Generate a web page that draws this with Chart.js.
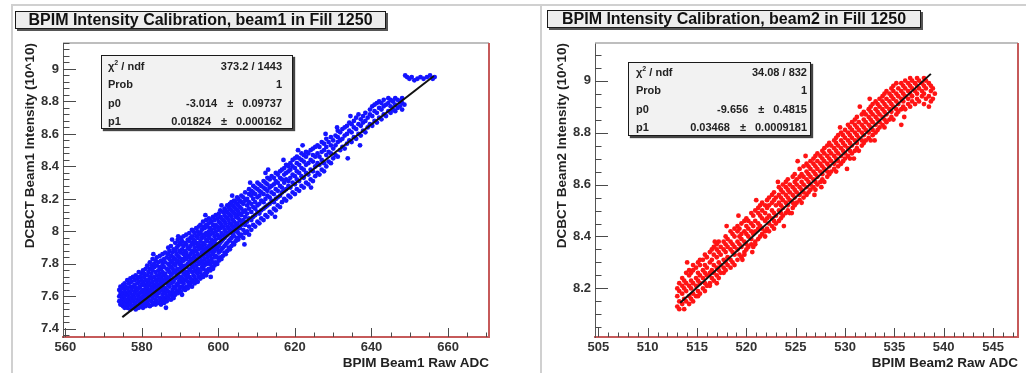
<!DOCTYPE html>
<html>
<head>
<meta charset="utf-8">
<title>BPIM Intensity Calibration, Fill 1250</title>
<script src="https://cdn.jsdelivr.net/npm/chart.js@4.4.0/dist/chart.umd.min.js"></script>
<style>
  html, body { margin: 0; padding: 0; background: #fff; }
  body { width: 1026px; height: 373px; position: relative; overflow: hidden;
         font-family: "Liberation Sans", Arial, Helvetica, sans-serif; }
  canvas { position: absolute; top: 0; }
  #beam1Canvas { left: 0; }
  #beam2Canvas { left: 513px; }
  .pad-line { position: absolute; background: #d0d0d0; }
  .title-box { position: absolute; height: 16px; border: 1px solid #1a1a1a; background: #ededed;
               box-shadow: 2px 2px 0 #555; font-weight: bold; font-size: 16px; line-height: 16px;
               text-align: center; color: #111; white-space: nowrap; }
  .stats-box { position: absolute; border: 1px solid #1a1a1a; background: #f2f2f2;
               box-shadow: 2px 2px 1px #444; font-weight: bold; font-size: 11px; color: #222;
               box-sizing: border-box; }
  .stats-row { display: flex; justify-content: space-between; align-items: center; white-space: nowrap; }
  .stats-row sup { font-size: 7px; line-height: 0; }
  .pm { margin: 0 9px 0 10px; }
</style>
</head>
<body>
  <div class="pad-line" style="left:11px;top:4px;width:1015px;height:2px;"></div>
  <div class="pad-line" style="left:11px;top:4px;width:2px;height:369px;"></div>
  <div class="pad-line" style="left:540px;top:4px;width:2px;height:369px;"></div>

  <canvas id="beam1Canvas" width="513" height="373"></canvas>
  <canvas id="beam2Canvas" width="513" height="373"></canvas>

  <div class="title-box" style="left:15px;top:11px;width:369px;">BPIM Intensity Calibration, beam1 in Fill 1250</div>
  <div class="title-box" style="left:547px;top:10px;width:372px;">BPIM Intensity Calibration, beam2 in Fill 1250</div>

  <div id="beam1Stats" class="stats-box" style="left:101px;top:55px;width:192px;height:74px;padding:1px 10px 0 6px;"></div>
  <div id="beam2Stats" class="stats-box" style="left:628px;top:62px;width:183px;height:74px;padding:0 3px 0 7px;"></div>

<script>
// Samples per ADC column: [BPIM raw ADC, DCBCT intensity (10^10) values ...]
const beam1Columns = [
  [574.1,7.57,7.60,7.64],[574.4,7.55,7.61,7.63,7.66],[574.8,7.58,7.62,7.56,7.65],[575.1,7.54,7.59,7.61,7.67],
  [575.5,7.56,7.60,7.64,7.68,7.53],[575.8,7.58,7.62,7.66,7.55],[576.2,7.53,7.57,7.61,7.65,7.70],[576.6,7.55,7.60,7.63,7.68,7.58],
  [577.0,7.52,7.56,7.62,7.66,7.71,7.59],[577.3,7.54,7.58,7.64,7.69],[577.7,7.53,7.57,7.61,7.66,7.72,7.60],[578.1,7.55,7.59,7.63,7.67,7.70],
  [578.4,7.52,7.56,7.62,7.65,7.73],[578.8,7.54,7.58,7.61,7.68,7.71,7.64],[579.2,7.53,7.57,7.60,7.65,7.69,7.75],[579.5,7.55,7.62,7.66,7.72,7.59],
  [579.9,7.54,7.58,7.63,7.67,7.70,7.74],[580.3,7.56,7.60,7.64,7.69,7.76,7.53],[580.6,7.55,7.59,7.62,7.67,7.72,7.74],[581.0,7.54,7.57,7.63,7.66,7.70,7.77,7.60],
  [581.4,7.56,7.61,7.65,7.68,7.73,7.79],[581.7,7.55,7.58,7.63,7.70,7.75,7.67],[582.1,7.54,7.60,7.64,7.68,7.72,7.77,7.81],[582.5,7.57,7.62,7.66,7.71,7.74,7.79],
  [582.8,7.55,7.59,7.65,7.69,7.76,7.83],[583.0,7.86],[583.2,7.56,7.61,7.63,7.67,7.72,7.78,7.80],[583.6,7.58,7.62,7.66,7.70,7.75,7.82,7.55],[583.9,7.57,7.60,7.65,7.69,7.73,7.79,7.84],
  [584.3,7.56,7.62,7.67,7.71,7.76,7.81],[584.7,7.59,7.63,7.66,7.70,7.74,7.78,7.85],[585.0,7.55,7.58,7.64,7.68,7.72,7.77,7.82],[585.4,7.57,7.61,7.66,7.70,7.75,7.80,7.86],
  [585.8,7.59,7.63,7.68,7.73,7.78,7.83,7.56],[586.1,7.58,7.62,7.65,7.71,7.74,7.81,7.87],[586.3,7.53],[586.5,7.60,7.64,7.69,7.72,7.77,7.84,7.57],[586.9,7.59,7.63,7.67,7.70,7.76,7.80,7.86,7.90],
  [587.2,7.61,7.66,7.71,7.75,7.79,7.83,7.88],[587.6,7.58,7.62,7.68,7.73,7.78,7.81,7.85,7.91],[587.9,7.95],[588.0,7.60,7.64,7.70,7.74,7.77,7.82,7.87],[588.3,7.62,7.66,7.69,7.75,7.80,7.84,7.89,7.59],
  [588.7,7.61,7.65,7.71,7.76,7.79,7.83,7.88,7.93],[589.1,7.63,7.67,7.72,7.74,7.81,7.86,7.90],[589.4,7.62,7.68,7.73,7.77,7.82,7.85,7.91,7.95],[589.5,7.97],
  [589.8,7.64,7.66,7.70,7.75,7.80,7.84,7.88,7.93],[590.2,7.63,7.69,7.72,7.78,7.81,7.87,7.92,7.96],[590.5,7.61,7.66,7.71,7.76,7.79,7.83,7.89,7.94],[590.9,7.65,7.68,7.74,7.77,7.82,7.86,7.91,7.97],
  [591.3,7.64,7.70,7.73,7.79,7.84,7.88,7.93],[591.6,7.66,7.71,7.75,7.78,7.83,7.87,7.92,7.98],[592.0,7.65,7.69,7.74,7.80,7.85,7.90,7.95],[592.4,7.67,7.72,7.76,7.81,7.84,7.89,7.94,7.99],
  [592.7,7.68,7.71,7.77,7.82,7.86,7.91,7.96],[593.1,7.66,7.70,7.75,7.79,7.83,7.88,7.93,7.97,8.01],[593.5,7.69,7.73,7.78,7.84,7.87,7.92,7.95,8.00],[593.8,7.68,7.72,7.76,7.81,7.85,7.90,7.94,7.99],
  [594.2,7.70,7.75,7.79,7.83,7.88,7.93,7.97,8.02],[594.6,7.69,7.74,7.77,7.82,7.86,7.91,7.96,8.00],[594.9,7.72,7.76,7.80,7.85,7.89,7.92,7.98,8.03],[595.3,7.71,7.75,7.81,7.84,7.90,7.94,7.99,8.04],
  [595.7,7.73,7.78,7.82,7.87,7.91,7.96,8.01],[596.0,7.72,7.77,7.80,7.85,7.89,7.93,7.98,8.03,8.06],[596.4,7.74,7.79,7.83,7.88,7.92,7.97,8.02],[596.6,8.10],[596.8,7.73,7.76,7.81,7.86,7.90,7.95,7.99,8.04,8.07],
  [597.1,7.75,7.80,7.84,7.89,7.94,7.98,8.03],[597.5,7.77,7.82,7.87,7.91,7.96,8.00,8.05,8.08],[597.9,7.76,7.80,7.85,7.89,7.93,7.98,8.02,8.07],[598.0,7.72],[598.2,7.78,7.83,7.88,7.92,7.95,8.01,8.06],
  [598.6,7.77,7.81,7.86,7.90,7.94,7.99,8.04,8.09],[599.0,7.79,7.84,7.88,7.93,7.97,8.02,8.07],[599.3,7.81,7.85,7.90,7.95,8.00,8.04,8.10],[599.7,7.80,7.84,7.89,7.92,7.98,8.03,8.08],
  [600.1,7.82,7.87,7.91,7.96,8.01,8.06,8.11],[600.5,7.84,7.88,7.93,7.97,8.02,8.05,8.09,8.13],[600.8,7.83,7.89,7.94,7.99,8.04,8.08,8.16],[601.2,7.85,7.90,7.95,7.98,8.03,8.07,8.12],
  [601.6,7.87,7.91,7.96,8.01,8.06,8.10,8.14],[601.9,7.86,7.92,7.97,8.00,8.05,8.09,8.13],[602.3,7.88,7.93,7.98,8.03,8.08,8.12,8.16],[602.7,7.90,7.94,7.99,8.02,8.07,8.11,8.15],
  [603.0,7.89,7.95,8.01,8.05,8.10,8.14,8.17],[603.4,7.91,7.96,8.00,8.04,8.09,8.13,8.18],[603.6,8.22],[603.8,7.93,7.98,8.03,8.07,8.12,8.16],[604.1,7.92,7.97,8.02,8.06,8.11,8.15,8.19],
  [604.5,7.94,8.00,8.04,8.09,8.14,8.18],[604.9,7.96,8.01,8.05,8.10,8.13,8.17,8.21],[605.2,7.95,7.99,8.03,8.08,8.12,8.16,8.20],[605.6,7.97,8.02,8.07,8.11,8.15,8.19],
  [606.0,7.98,8.04,8.06,8.10,8.14,8.18,8.22],[606.5,7.96,8.01,8.07,8.12,8.17,8.21],[606.8,7.92],[607.0,7.99,8.04,8.09,8.13,8.19,8.24],[607.5,8.00,8.06,8.11,8.16,8.20],
  [608.0,7.98,8.03,8.08,8.14,8.18,8.23,8.26],[608.3,8.30],[608.6,8.01,8.07,8.12,8.17,8.22,8.25],[609.1,8.04,8.09,8.15,8.20,8.24,8.28],[609.6,8.03,8.10,8.14,8.18,8.23,8.27],
  [610.2,8.06,8.12,8.16,8.21,8.26,8.30],[610.7,8.05,8.11,8.17,8.22,8.25,8.29],[611.2,8.08,8.13,8.19,8.24,8.28],[611.8,8.07,8.14,8.18,8.23,8.27,8.31],
  [612.3,8.10,8.15,8.20,8.26,8.30,8.36],[612.8,8.09,8.16,8.22,8.25,8.29,8.33],[613.0,8.38],[613.4,8.12,8.17,8.21,8.27,8.32],[613.9,8.11,8.19,8.24,8.28,8.34],
  [614.5,8.14,8.18,8.23,8.29,8.33],[614.8,8.09],[615.0,8.13,8.20,8.26,8.31,8.36],[615.5,8.16,8.21,8.25,8.30,8.35],[616.1,8.15,8.22,8.28,8.33,8.37],
  [616.6,8.18,8.24,8.27,8.32,8.38],[617.0,8.44],[617.2,8.20,8.25,8.30,8.35,8.39],[617.7,8.19,8.26,8.32,8.36,8.41],[618.3,8.22,8.28,8.31,8.37,8.40],
  [618.8,8.21,8.27,8.33,8.38,8.42],[619.4,8.24,8.30,8.35,8.40,8.44],[620.0,8.23,8.29,8.34,8.39,8.45],[620.5,8.26,8.32,8.37,8.42,8.46],
  [620.8,8.50],[621.1,8.25,8.31,8.36,8.41,8.45],[621.7,8.28,8.34,8.39,8.44,8.48],[622.0,8.53],[622.3,8.27,8.33,8.38,8.43,8.47],
  [622.9,8.30,8.36,8.41,8.46,8.49],[623.5,8.29,8.35,8.42,8.48],[624.1,8.32,8.38,8.44,8.50],[624.2,8.27],[624.7,8.31,8.37,8.43,8.47,8.51],
  [625.3,8.34,8.40,8.46,8.52],[625.9,8.36,8.42,8.48,8.53],[626.4,8.35,8.41,8.46,8.52],[627.0,8.38,8.44,8.49,8.55],
  [627.6,8.37,8.42,8.50,8.54],[628.0,8.60],[628.2,8.40,8.47,8.52,8.57],[628.8,8.43,8.49,8.55],[629.4,8.42,8.48,8.53,8.58],
  [630.0,8.45,8.51,8.56],[630.6,8.47,8.53,8.59],[631.0,8.64],[631.2,8.46,8.55,8.58,8.62],[631.8,8.50,8.56,8.61],
  [632.4,8.52,8.57,8.63],[633.0,8.51,8.59,8.64],[633.6,8.54,8.60,8.65],[633.8,8.45],[634.2,8.56,8.62,8.67],
  [634.5,8.71],[634.8,8.55,8.61,8.66],[635.4,8.58,8.64,8.68],[636.0,8.57,8.63,8.70],[636.6,8.60,8.66,8.72],[637.0,8.53],[637.2,8.59,8.65,8.69],
  [637.8,8.62,8.67,8.71],[638.4,8.61,8.68,8.73],[639.0,8.64,8.70],[639.6,8.66,8.72,8.75],[640.2,8.65,8.71,8.77],
  [640.8,8.68,8.74,8.78],[641.4,8.67,8.73,8.79],[642.0,8.70,8.76,8.80],[642.6,8.69,8.75,8.79],[643.2,8.72,8.77,8.81],
  [643.8,8.71,8.78],[644.4,8.74,8.79,8.82],[645.0,8.73,8.77,8.81],[645.6,8.75,8.80],[646.2,8.74,8.78,8.82],
  [646.8,8.76,8.81],[647.4,8.77,8.80],[648.0,8.75,8.79,8.82],[648.6,8.78],
  [648.8,8.96],[649.3,8.95],[649.9,8.94],[650.5,8.95],[651.2,8.93],[652.0,8.94],
  [652.8,8.95],[653.6,8.94],[654.5,8.95],[655.3,8.96],[656.0,8.94],[656.5,8.95]
];

const beam2Columns = [
  [513.0,8.13,8.17,8.20],[513.2,8.12,8.15,8.19,8.22],[513.5,8.14,8.18,8.21,8.24],[513.7,8.12,8.16,8.20,8.23],
  [513.9,8.15,8.19,8.22,8.26],[514.0,8.30],[514.2,8.14,8.17,8.21,8.25,8.27],[514.4,8.16,8.20,8.23,8.26],[514.6,8.15,8.18,8.22,8.27,8.29],
  [514.9,8.17,8.21,8.24,8.28],[515.1,8.19,8.23,8.26,8.30,8.17],[515.3,8.18,8.22,8.25,8.29,8.31],[515.6,8.20,8.24,8.27,8.31],
  [515.8,8.19,8.22,8.26,8.29,8.33],[516.0,8.21,8.25,8.28,8.32],[516.3,8.22,8.26,8.30,8.34,8.21],[516.5,8.24,8.27,8.31,8.35],
  [516.7,8.23,8.26,8.29,8.33,8.36],[516.8,8.38],[517.0,8.25,8.28,8.32,8.35,8.37,8.22],[517.2,8.24,8.27,8.30,8.34,8.38],
  [517.4,8.26,8.29,8.33,8.36],[517.7,8.28,8.31,8.35,8.38,8.26],[517.9,8.27,8.30,8.34,8.37,8.40],[518.0,8.44],
  [518.1,8.29,8.32,8.36,8.39],[518.4,8.28,8.31,8.35,8.38,8.42],[518.6,8.30,8.34,8.37,8.41],[518.8,8.29,8.33,8.36,8.40,8.43],
  [519.1,8.31,8.35,8.38,8.42,8.44],[519.2,8.48],[519.3,8.33,8.37,8.40,8.43],[519.5,8.32,8.36,8.39,8.41,8.45],[519.6,8.31],
  [519.8,8.34,8.38,8.42,8.46,8.33],[520.0,8.35,8.37,8.41,8.44,8.47],[520.2,8.36,8.40,8.43,8.46],[520.5,8.37,8.39,8.42,8.45,8.49],[520.6,8.34],
  [520.7,8.36,8.41,8.44,8.48],[520.9,8.38,8.42,8.46,8.50,8.37],[521.0,8.54],[521.2,8.39,8.43,8.45,8.49,8.51],
  [521.4,8.40,8.44,8.48,8.52],[521.6,8.41,8.43,8.47,8.50,8.53],[521.9,8.40,8.42,8.46,8.49,8.52],[522.1,8.43,8.47,8.51,8.54],
  [522.3,8.42,8.45,8.48,8.52,8.55],[522.6,8.44,8.47,8.50,8.53,8.56],[522.8,8.43,8.46,8.49,8.54,8.57],[523.0,8.45,8.48,8.52,8.55],
  [523.2,8.61],[523.3,8.46,8.50,8.53,8.56,8.59],[523.5,8.47,8.49,8.52,8.55,8.58],[523.7,8.48,8.51,8.54,8.57,8.60],[523.8,8.44],
  [524.0,8.49,8.53,8.56,8.59,8.61],[524.2,8.50,8.52,8.55,8.58,8.62],[524.4,8.49,8.54,8.57,8.60],[524.6,8.49],
  [524.7,8.51,8.53,8.56,8.59,8.63],[524.9,8.52,8.55,8.58,8.61,8.64],[525.1,8.53,8.57,8.60,8.62],[525.2,8.69],[525.4,8.54,8.56,8.59,8.63,8.66],
  [525.6,8.53,8.58,8.61,8.64],[525.8,8.55,8.57,8.60,8.63,8.67],[526.0,8.71],[526.1,8.56,8.59,8.62,8.65,8.68],
  [526.3,8.57,8.61,8.64,8.67],[526.5,8.58,8.60,8.63,8.66,8.69],[526.8,8.59,8.62,8.65,8.68,8.70],[526.9,8.56],[527.0,8.58,8.61,8.64,8.67,8.71],
  [527.2,8.60,8.63,8.66,8.69,8.72],[527.5,8.61,8.65,8.68,8.71],[527.6,8.59],[527.7,8.62,8.64,8.67,8.70,8.73],
  [527.9,8.61,8.66,8.69,8.72,8.74],[528.2,8.63,8.65,8.68,8.71,8.75],[528.4,8.64,8.67,8.70,8.73,8.76],[528.6,8.65,8.69,8.72,8.75],
  [528.9,8.66,8.68,8.71,8.74,8.77],[529.1,8.65,8.70,8.73,8.76,8.78],[529.3,8.67,8.69,8.72,8.75,8.79],[529.5,8.82],
  [529.6,8.68,8.71,8.74,8.77,8.80],[529.8,8.69,8.73,8.76,8.79],[530.0,8.70,8.72,8.75,8.78,8.81],[530.2,8.66],[530.3,8.71,8.74,8.77,8.80,8.83],
  [530.5,8.70,8.73,8.76,8.79,8.82],[530.7,8.72,8.75,8.78,8.81,8.84],[530.9,8.70],[531.0,8.73,8.77,8.80,8.83,8.85],
  [531.2,8.74,8.76,8.79,8.82,8.86],[531.4,8.73,8.78,8.81,8.84],[531.5,8.90],[531.7,8.75,8.77,8.80,8.83,8.87],[531.9,8.76,8.79,8.82,8.85,8.88],
  [532.1,8.77,8.81,8.84,8.87],[532.4,8.78,8.80,8.83,8.86,8.89],[532.5,8.93],[532.6,8.77,8.82,8.85,8.88,8.90],
  [532.8,8.79,8.81,8.84,8.87,8.91],[533.0,8.77],[533.1,8.80,8.83,8.86,8.89,8.92],[533.3,8.81,8.85,8.88,8.91],[533.5,8.82,8.84,8.87,8.90,8.93],
  [533.8,8.83,8.86,8.89,8.92,8.94],[534.0,8.82,8.85,8.88,8.91,8.95],[534.2,8.84,8.87,8.90,8.93,8.96],[534.5,8.85,8.89,8.92,8.95],
  [534.7,8.86,8.88,8.91,8.94,8.97],[534.9,8.85,8.90,8.93,8.96,8.98],[535.2,8.87,8.89,8.92,8.95,8.99],[535.4,8.88,8.91,8.94,8.97],
  [535.7,8.83,8.89,8.93,8.96,8.99],[535.9,8.90,8.92,8.95,8.98],[536.0,8.86],[536.1,8.89,8.94,8.97,9.00],[536.4,8.91,8.93,8.96,8.99],
  [536.6,8.90,8.95,8.98,9.01],[536.8,8.92,8.94,8.97,9.00],[537.1,8.91,8.96,8.99],[537.3,8.93,8.95,8.98,9.01],
  [537.5,8.92,8.97,9.00],[537.8,8.94,8.96,8.99],[538.0,8.91,8.95,8.98,9.01],[538.2,8.93,8.97,9.00],
  [538.5,8.90,8.94,8.99],[538.7,8.92,8.96,8.98],[538.9,8.93,8.97],[539.1,8.95]
];

// Linear fit results: [p0, p1], their errors, chi2/ndf, probability, fit range
const beam1FitParams = [-3.014, 0.01824];
const beam1FitErrors = [0.09737, 0.000162];
const beam1Chi2Ndf = [373.2, 1443];
const beam1Prob = [1];
const beam1FitRange = [574.9, 656.3];

const beam2FitParams = [-9.656, 0.03468];
const beam2FitErrors = [0.4815, 0.0009181];
const beam2Chi2Ndf = [34.08, 832];
const beam2Prob = [1];
const beam2FitRange = [513.3, 538.7];

// Axis ranges and labelled ticks
const beam1XRange = [559.4, 670.7];
const beam1YRange = [7.35, 9.16];
const beam1XTicks = [560, 580, 600, 620, 640, 660];
const beam1YTicks = [7.4, 7.6, 7.8, 8, 8.2, 8.4, 8.6, 8.8, 9];

const beam2XRange = [504.66, 547.53];
const beam2YRange = [8.013, 9.145];
const beam2XTicks = [505, 510, 515, 520, 525, 530, 535, 540, 545];
const beam2YTicks = [8.2, 8.4, 8.6, 8.8, 9];

Chart.defaults.font.family = '"Liberation Sans", Arial, Helvetica, sans-serif';

const fmt = v => String(parseFloat(v.toFixed(4)));
const columnsToPoints = cols => cols.flatMap(([xv, ...ys]) => ys.map(yv => ({ x: xv, y: yv })));

// Inside-pointing major/minor tick marks plus the top and right frame edges
const frameTicks = {
  id: 'frameTicks',
  afterDatasetsDraw(chart, args, opts) {
    const { ctx, chartArea: a, scales: { x, y } } = chart;
    const seg = (x1, y1, x2, y2) => { ctx.beginPath(); ctx.moveTo(x1, y1); ctx.lineTo(x2, y2); ctx.stroke(); };
    ctx.save();
    ctx.strokeStyle = '#a9a9a9'; ctx.lineWidth = 1.5;
    seg(a.left, a.top, a.right, a.top);
    ctx.strokeStyle = '#c65a5a'; ctx.lineWidth = 2;
    seg(a.right, a.top, a.right, a.bottom);

    ctx.strokeStyle = '#4a4a4a'; ctx.lineWidth = 1;
    const marks = (scale, minor, major, draw) => {
      const k0 = Math.ceil(scale.min / minor - 1e-6), k1 = Math.floor(scale.max / minor + 1e-6);
      for (let k = k0; k <= k1; k++) {
        const v = k * minor, r = v / major;
        draw(scale.getPixelForValue(v), Math.abs(r - Math.round(r)) < 1e-6);
      }
    };
    marks(x, opts.xMinor, opts.xMajor, (p, big) => seg(Math.round(p) + 0.5, a.bottom, Math.round(p) + 0.5, a.bottom - (big ? 9 : 4.5)));
    marks(y, opts.yMinor, opts.yMajor, (p, big) => seg(a.left, Math.round(p) + 0.5, a.left + (big ? 13 : 6.5), Math.round(p) + 0.5));
    ctx.restore();
  }
};

function fitLine(params, range) {
  return range.map(xv => ({ x: xv, y: params[0] + params[1] * xv }));
}

function makePanel(cfg) {
  const ctx = document.getElementById(cfg.canvas).getContext('2d');
  return new Chart(ctx, {
    type: 'scatter',
    data: {
      datasets: [
        { data: fitLine(cfg.fitParams, cfg.fitRange), showLine: true, borderColor: '#111', borderWidth: 2,
          pointRadius: 0, order: 0 },
        { data: columnsToPoints(cfg.columns), pointRadius: 2.4, pointBorderWidth: 0,
          pointBackgroundColor: cfg.color, backgroundColor: cfg.color, order: 1 }
      ]
    },
    options: {
      responsive: false, animation: false, events: [],
      layout: { padding: { top: 43, right: cfg.padRight, bottom: 0, left: 0 } },
      plugins: {
        legend: { display: false }, tooltip: { enabled: false },
        frameTicks: { xMinor: cfg.xMinor, xMajor: cfg.xTicks[1] - cfg.xTicks[0],
                      yMinor: cfg.yMinor, yMajor: 0.2 }
      },
      scales: {
        x: {
          type: 'linear', min: cfg.xRange[0], max: cfg.xRange[1],
          afterBuildTicks: s => { s.ticks = cfg.xTicks.map(v => ({ value: v })); },
          afterFit: s => { s.height = 36; },
          grid: { display: true, drawOnChartArea: false, drawTicks: false },
          border: { display: true, color: '#c65a5a', width: 2 },
          ticks: { padding: 3, color: '#333', autoSkip: false, maxRotation: 0,
                   font: { size: 13, weight: 'bold' }, callback: v => fmt(v) },
          title: { display: true, text: cfg.xTitle, align: 'end', color: '#222',
                   font: { size: 13.5, weight: 'bold' }, padding: { top: 0, bottom: 2 } }
        },
        y: {
          type: 'linear', min: cfg.yRange[0], max: cfg.yRange[1],
          afterBuildTicks: s => { s.ticks = cfg.yTicks.map(v => ({ value: v })); },
          afterFit: s => { s.width = cfg.yAxisWidth; },
          grid: { display: true, drawOnChartArea: false, drawTicks: false },
          border: { display: true, color: '#555', width: 1 },
          ticks: { padding: 4, color: '#333', autoSkip: false,
                   font: { size: 13, weight: 'bold' }, callback: v => fmt(v) },
          title: { display: true, text: cfg.yTitle, align: 'end', color: '#222',
                   font: { size: 13.5, weight: 'bold' }, padding: { top: cfg.yTitlePad, bottom: 0 } }
        }
      }
    },
    plugins: [frameTicks]
  });
}

function fillStats(id, chi2, prob, params, errors) {
  const rows = [
    ['&chi;<sup>2</sup> / ndf', `${chi2[0]} / ${chi2[1]}`],
    ['Prob', String(prob[0])],
    ['p0', `${params[0]}<span class="pm">&plusmn;</span>${errors[0]}`],
    ['p1', `${params[1]}<span class="pm">&plusmn;</span>${errors[1]}`]
  ];
  document.getElementById(id).innerHTML = rows
    .map(([k, v]) => `<div class="stats-row" style="height:18.3px"><span>${k}</span><span>${v}</span></div>`)
    .join('');
}

makePanel({
  canvas: 'beam1Canvas', columns: beam1Columns, color: '#1414ff',
  fitParams: beam1FitParams, fitRange: beam1FitRange,
  xRange: beam1XRange, yRange: beam1YRange, xTicks: beam1XTicks, yTicks: beam1YTicks,
  xMinor: 5, yMinor: 0.04, padRight: 24, yAxisWidth: 63, yTitlePad: 22,
  xTitle: 'BPIM Beam1 Raw ADC', yTitle: 'DCBCT Beam1 Intensity (10^10)'
});

makePanel({
  canvas: 'beam2Canvas', columns: beam2Columns, color: '#ff1414',
  fitParams: beam2FitParams, fitRange: beam2FitRange,
  xRange: beam2XRange, yRange: beam2YRange, xTicks: beam2XTicks, yTicks: beam2YTicks,
  xMinor: 1, yMinor: 0.05, padRight: 8, yAxisWidth: 82, yTitlePad: 41,
  xTitle: 'BPIM Beam2 Raw ADC', yTitle: 'DCBCT Beam2 Intensity (10^10)'
});

fillStats('beam1Stats', beam1Chi2Ndf, beam1Prob, beam1FitParams, beam1FitErrors);
fillStats('beam2Stats', beam2Chi2Ndf, beam2Prob, beam2FitParams, beam2FitErrors);
</script>
</body>
</html>
